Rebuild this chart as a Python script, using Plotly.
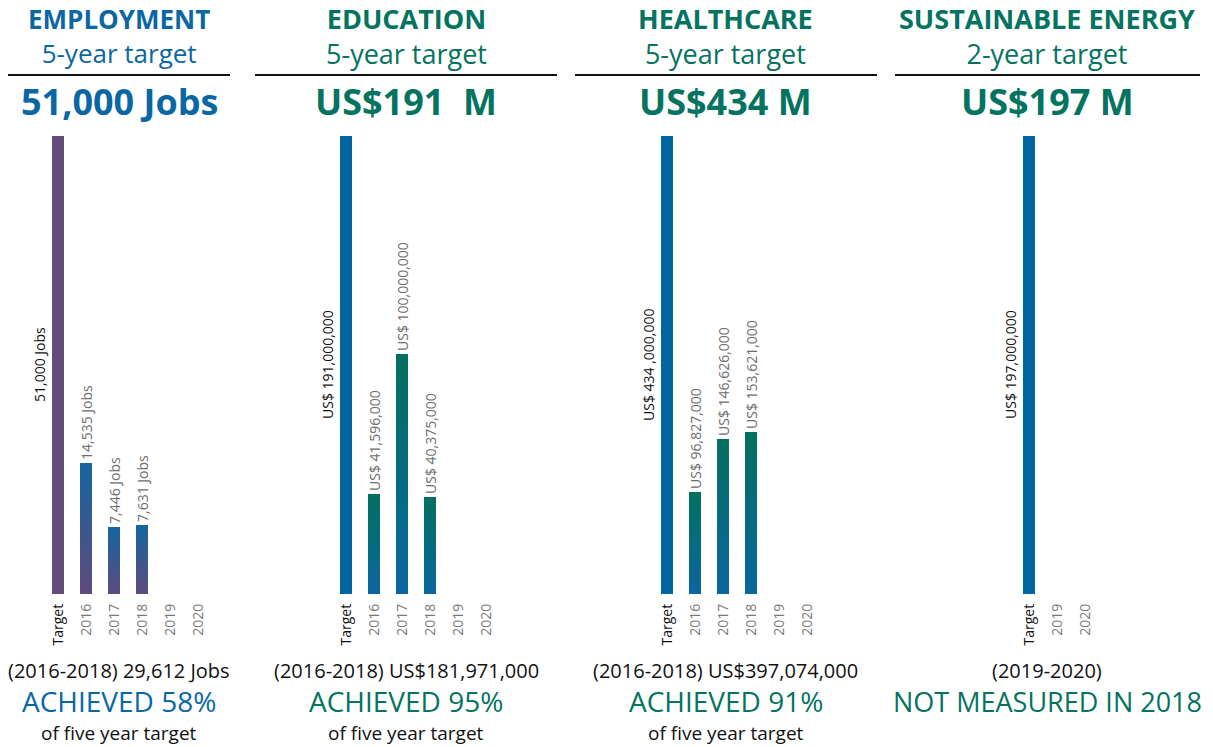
import plotly.graph_objects as go

# ---------------- data ----------------
main_categories = ["Target", "2016", "2017", "2018", "2019", "2020"]
energy_categories = ["Target", "2019", "2020"]

employment_values = [51000, 14535, 7446, 7631, None, None]
employment_labels = ["51,000 Jobs", "14,535 Jobs", "7,446 Jobs", "7,631 Jobs", "", ""]

education_values = [191000000, 41596000, 100000000, 40375000, None, None]
education_labels = ["US$ 191,000,000", "US$ 41,596,000", "US$ 100,000,000", "US$ 40,375,000", "", ""]

healthcare_values = [434000000, 96827000, 146626000, 153621000, None, None]
healthcare_labels = ["US$ 434 ,000,000", "US$ 96,827,000", "US$ 146,626,000", "US$ 153,621,000", "", ""]

energy_values = [197000000, None, None]
energy_labels = ["US$ 197,000,000", "", ""]

panel_titles = ["EMPLOYMENT", "EDUCATION", "HEALTHCARE", "SUSTAINABLE ENERGY"]
panel_subtitles = ["5-year target", "5-year target", "5-year target", "2-year target"]
panel_headlines = ["51,000 Jobs", "US$191  M", "US$434 M", "US$197 M"]
panel_totals = ["(2016-2018) 29,612 Jobs", "(2016-2018) US$181,971,000",
                "(2016-2018) US$397,074,000", "(2019-2020)"]
panel_results = ["ACHIEVED 58%", "ACHIEVED 95%", "ACHIEVED 91%", "NOT MEASURED IN 2018"]
panel_footers = ["of five year target", "of five year target", "of five year target", ""]

# ---------------- style ----------------
W, H = 1213, 747
FONT = "Open Sans"
BLUE = "#0a67a3"
TEAL = "#04735f"
header_colors = [BLUE, TEAL, TEAL, TEAL]
target_colors = ["#634b7b", "#0066a1", "#0066a1", "#0066a1"]
# gradient (top colour, bottom colour) for the yearly bars
year_gradients = [("#15659f", "#5f4a7d"), ("#02705f", "#0a66a0"),
                  ("#02705f", "#0a66a0"), ("#02705f", "#0a66a0")]
result_sizes = [28, 28, 28, 27]
N_SEG = 30
BAR_W = 0.43

panels = [
    (main_categories, employment_values, employment_labels, (44, 212)),
    (main_categories, education_values, education_labels, (332, 500)),
    (main_categories, healthcare_values, healthcare_labels, (653, 821)),
    (energy_categories, energy_values, energy_labels, (1015, 1099)),
]
centers = [119, 406, 726, 1047]
rules = [(8, 230), (255, 557), (575, 877), (895, 1200)]

plot_bottom, plot_top = 594, 136


def py(px):
    return 1 - px / H


def hex2rgb(h):
    h = h.lstrip("#")
    return tuple(int(h[j:j + 2], 16) for j in (0, 2, 4))


def mix(c_top, c_bot, t):
    a, b = hex2rgb(c_top), hex2rgb(c_bot)
    return "rgb(%d,%d,%d)" % tuple(round(b[k] + (a[k] - b[k]) * t) for k in range(3))


fig = go.Figure()
annotations = []
shapes = []

for i, (cats, vals, labels, (x0, x1)) in enumerate(panels):
    n = i + 1
    xa = "x" if n == 1 else f"x{n}"
    ya = "y" if n == 1 else f"y{n}"
    target = vals[0]
    # target bar
    fig.add_trace(go.Bar(
        x=[cats[0]], y=[vals[0]], xaxis=xa, yaxis=ya,
        marker=dict(color=target_colors[i], line=dict(width=0)),
        width=BAR_W, showlegend=False, hoverinfo="skip",
    ))
    # yearly bars drawn as gradient slices
    top_c, bot_c = year_gradients[i]
    seg_x, seg_base, seg_h, seg_col = [], [], [], []
    for c, v in zip(cats[1:], vals[1:]):
        if v is None:
            continue
        for k in range(N_SEG):
            seg_x.append(c)
            seg_base.append(v * k / N_SEG)
            seg_h.append(v / N_SEG * 1.02 if k < N_SEG - 1 else v / N_SEG)
            seg_col.append(mix(top_c, bot_c, (k + 0.5) / N_SEG))
    if seg_x:
        fig.add_trace(go.Bar(
            x=seg_x, y=seg_h, base=seg_base, xaxis=xa, yaxis=ya,
            marker=dict(color=seg_col, line=dict(width=0)),
            width=BAR_W, showlegend=False, hoverinfo="skip",
        ))
    # value labels above yearly bars
    fig.add_trace(go.Bar(
        x=cats[1:], y=vals[1:], xaxis=xa, yaxis=ya,
        marker=dict(color="rgba(0,0,0,0)", line=dict(width=0)),
        width=BAR_W, text=labels[1:], textposition="outside", textangle=-90,
        constraintext="none", cliponaxis=False,
        textfont=dict(family=FONT, size=14, color="#6d6d6d"),
        showlegend=False, hoverinfo="skip",
    ))
    # target label
    annotations.append(dict(
        x=cats[0], y=target / 2, xref=xa, yref=ya, text=labels[0],
        textangle=-90, showarrow=False, xshift=-19,
        xanchor="center", yanchor="middle",
        font=dict(family=FONT, size=14, color="#111111"),
    ))
    ticktext = ["<span style='color:#111111'>%s</span>" % c if c == "Target"
                else "<span style='color:#7a7a7a'>%s</span>" % c for c in cats]
    axis_x = dict(domain=[x0 / W, x1 / W], anchor=ya, type="category",
                  categoryorder="array", categoryarray=cats,
                  range=[-0.5, len(cats) - 0.5], tickangle=-90,
                  tickmode="array", tickvals=cats, ticktext=ticktext,
                  tickfont=dict(family=FONT, size=14),
                  showgrid=False, showline=False, zeroline=False, ticks="",
                  ticklabelstandoff=6, fixedrange=True)
    axis_y = dict(domain=[py(plot_bottom), py(plot_top)], anchor=xa,
                  range=[0, target], visible=False, fixedrange=True)
    fig.update_layout(**{("xaxis" if n == 1 else f"xaxis{n}"): axis_x,
                         ("yaxis" if n == 1 else f"yaxis{n}"): axis_y})

    cx = centers[i] / W
    common = dict(xref="paper", yref="paper", showarrow=False,
                  xanchor="center", yanchor="middle", x=cx)
    title_size = 26 if i == 0 else 27
    annotations += [
        dict(y=py(36.5), text="<b>%s</b><br>%s" % (panel_titles[i], panel_subtitles[i]),
             font=dict(family=FONT, size=title_size, color=header_colors[i]), **common),
        dict(y=py(101), text="<b>%s</b>" % panel_headlines[i],
             font=dict(family=FONT, size=36, color=header_colors[i]), **common),
        dict(y=py(670), text=panel_totals[i],
             font=dict(family=FONT, size=20, color="#111111"), **common),
        dict(y=py(701), text=panel_results[i],
             font=dict(family=FONT, size=result_sizes[i], color=header_colors[i]), **common),
    ]
    if panel_footers[i]:
        annotations.append(dict(y=py(733), text=panel_footers[i],
                                font=dict(family=FONT, size=19, color="#111111"), **common))
    r0, r1 = rules[i]
    shapes.append(dict(type="line", xref="paper", yref="paper",
                       x0=r0 / W, x1=r1 / W, y0=py(75), y1=py(75),
                       line=dict(color="#111111", width=2)))

fig.update_layout(
    width=W, height=H, margin=dict(l=0, r=0, t=0, b=0),
    paper_bgcolor="white", plot_bgcolor="white", barmode="overlay",
    annotations=annotations, shapes=shapes, bargap=0, showlegend=False,
    font=dict(family=FONT),
)

fig.write_html("out.html", config={"displayModeBar": False},
               post_script="document.body.style.margin='0';document.body.style.overflow='hidden';")
